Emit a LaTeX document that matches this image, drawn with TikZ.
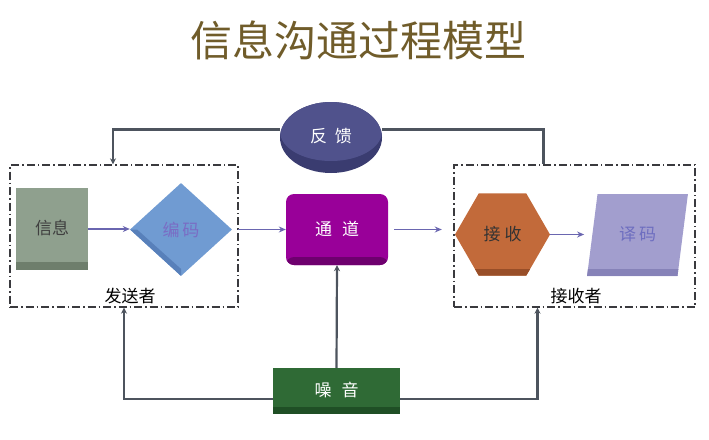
\documentclass[tikz,border=0pt]{standalone}
\usepackage{fontspec}
\setmainfont{Noto Sans CJK SC}
\usetikzlibrary{shapes.geometric,arrows.meta}
\definecolor{model_title}{RGB}{112,92,42}
\definecolor{model_line}{RGB}{77,84,94}
\definecolor{model_arrow}{RGB}{106,102,176}
\definecolor{model_group}{RGB}{58,58,62}
\definecolor{info_face}{RGB}{143,160,142}
\definecolor{info_side}{RGB}{110,126,108}
\definecolor{code_face}{RGB}{112,155,210}
\definecolor{code_side}{RGB}{88,128,186}
\definecolor{code_text}{RGB}{122,108,196}
\definecolor{channel_face}{RGB}{153,0,153}
\definecolor{channel_side}{RGB}{110,0,110}
\definecolor{fb_face}{RGB}{80,82,140}
\definecolor{fb_side}{RGB}{58,60,112}
\definecolor{recv_face}{RGB}{194,106,58}
\definecolor{recv_side}{RGB}{152,78,40}
\definecolor{decode_face}{RGB}{162,158,206}
\definecolor{decode_side}{RGB}{134,130,184}
\definecolor{decode_text}{RGB}{110,110,192}
\definecolor{noise_face}{RGB}{47,106,53}
\definecolor{noise_side}{RGB}{31,79,37}
\tikzset{
  bevel/.style 2 args={path picture={\fill[#1] ([yshift=#2]path picture bounding box.south west)
      rectangle (path picture bounding box.south east);}},
  groupbox/.style={draw=model_group, line width=1.4pt, inner sep=0pt,
      dash pattern=on 8pt off 3pt on 1.5pt off 3pt},
  flowline/.style={draw=model_line, line width=2.2pt},
  flowarrow/.style={-{Stealth[length=7pt,width=6pt]}, draw=model_arrow, line width=1.6pt},
  graytip/.style={-{Stealth[length=6pt,width=6pt]}},
  boxtext/.style={font=\fontsize{17}{20}\selectfont}
}

\begin{document}
\begin{tikzpicture}[x=1pt, y=-1pt]
  \useasboundingbox (0,0) rectangle (709,439);
  \node[font=\fontsize{42}{48}\selectfont, text=model_title] (title) at (358,40) {信息沟通过程模型};

  % sender and receiver groups
  \node[groupbox, minimum width=228pt, minimum height=142pt] (sender) at (124,236) {};
  \node[groupbox, minimum width=241pt, minimum height=142pt] (receiver) at (574.5,236) {};
  \node[boxtext] (senderlabel) at (130,296) {发送者};
  \node[boxtext] (receiverlabel) at (576,296) {接收者};

  % shapes
  \node[boxtext, rectangle, fill=info_face, minimum width=72pt, minimum height=82pt,
        bevel={info_side}{8pt}, text=black!75] (info) at (52,229) {\raisebox{4pt}{信息}};
  \node[boxtext, diamond, fill=code_face, minimum width=102pt, minimum height=93pt, inner sep=0pt,
        text=code_text, path picture={\fill[code_side] (path picture bounding box.west)
        -- (path picture bounding box.south) -- ([yshift=7pt]path picture bounding box.south)
        -- ([xshift=7pt]path picture bounding box.west) -- cycle;}] (code) at (181,229.5) {编\hspace{3pt}码};
  \node[boxtext, rectangle, rounded corners=8pt, fill=channel_face, minimum width=102pt,
        minimum height=71pt, bevel={channel_side}{8pt}, text=white] (channel) at (337,229.5)
        {\raisebox{3pt}{通\hspace{10pt}道}};
  \node[boxtext, ellipse, fill=fb_side, minimum width=102pt, minimum height=71pt, text=white,
        path picture={\fill[fb_face] ([yshift=6pt]path picture bounding box.center)
        ellipse [x radius=51pt, y radius=29.5pt];}] (fb) at (331,137.5) {\raisebox{5pt}{反\hspace{8pt}馈}};
  \node[boxtext, regular polygon, regular polygon sides=6, minimum size=95pt, inner sep=0pt,
        fill=recv_face, bevel={recv_side}{7pt}, text=black!80] (recv) at (502.5,234.5)
        {\raisebox{3pt}{接\hspace{4pt}收}};
  \node[boxtext, trapezium, trapezium left angle=74, trapezium right angle=106, trapezium stretches=true,
        minimum width=101pt, minimum height=82pt, inner sep=0pt, fill=decode_face,
        bevel={decode_side}{7pt}, text=decode_text] (decode) at (637.5,235) {\raisebox{3pt}{译\hspace{3pt}码}};
  \node[boxtext, rectangle, fill=noise_face, minimum width=127pt, minimum height=46pt,
        bevel={noise_side}{7pt}, text=white] (noise) at (336.5,391) {\raisebox{3pt}{噪\hspace{10pt}音}};

  % message flow
  \draw[flowarrow] (info.east) -- (info.east -| code.west);
  \draw[flowarrow, shorten <=6pt] (code.east) -- (code.east -| channel.west);
  \draw[flowarrow, shorten <=6pt, shorten >=13pt] (channel.east) -- (channel.east -| recv.west);
  \draw[flowarrow, shorten >=8pt] (recv.east) -- (recv.east -| decode.west);

  % feedback and noise
  \draw[flowline, graytip] ([yshift=8pt]fb.west) -| ([xshift=-11pt]sender.north);
  \draw[flowline] ([yshift=8pt]fb.east) -| ([xshift=-31pt]receiver.north);
  \draw[flowline, graytip] (noise.north) -- (channel.south);
  \draw[flowline, graytip] ([yshift=-8pt]noise.west) -| (sender.south);
  \draw[flowline, graytip] ([yshift=-8pt]noise.east) -| ([xshift=-37pt]receiver.south);
\end{tikzpicture}
\end{document}
